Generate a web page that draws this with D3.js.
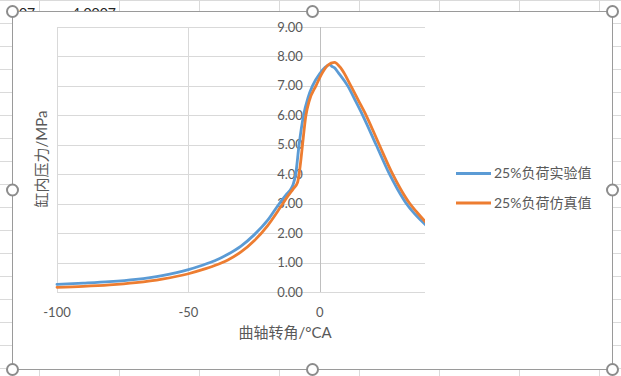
<!DOCTYPE html>
<html>
<head>
<meta charset="utf-8">
<script src="https://cdn.jsdelivr.net/npm/d3@7"></script>
<style>
  html, body { margin: 0; padding: 0; background: #fff; }
  svg { display: block; }
  text { font-family: "Lato", "Noto Sans CJK SC", sans-serif; }
</style>
</head>
<body>
<svg id="chart" width="621" height="376"></svg>
<script>
// crank angle (°CA) and cylinder pressure (MPa)
const expAngle = [-100, -90, -80, -70, -60, -50, -45, -40, -35, -30, -25, -20, -15.6, -12.5, -11, -10.2, -9.2, -7.9, -6.2, -4.5, -2.8, 0, 2, 3.9, 4.6, 5.5, 7, 10.6, 13.5, 16.3, 21.4, 26.5, 29.5, 32.8, 36, 41];
const expPress = [0.26, 0.30, 0.35, 0.43, 0.56, 0.76, 0.90, 1.06, 1.28, 1.56, 1.94, 2.42, 2.98, 3.34, 3.5, 3.64, 4.0, 5.0, 6.0, 6.6, 7.0, 7.42, 7.63, 7.72, 7.66, 7.62, 7.45, 7.0, 6.5, 6.0, 5.0, 4.0, 3.5, 3.02, 2.66, 2.22];

const simAngle = [-100, -90, -80, -70, -60, -50, -45, -40, -35, -30, -25, -20, -15, -12, -10, -8.5, -7.9, -7.2, -6.6, -5.3, -4, -1.5, 1, 3, 5.5, 8, 11.8, 14.7, 17.6, 22.6, 27.7, 30.7, 34, 37, 41];
const simPress = [0.16, 0.19, 0.24, 0.32, 0.44, 0.62, 0.75, 0.90, 1.09, 1.36, 1.74, 2.24, 2.88, 3.28, 3.52, 3.72, 4.0, 4.5, 5.0, 6.0, 6.5, 7.0, 7.45, 7.7, 7.8, 7.6, 7.0, 6.5, 6.0, 5.0, 4.0, 3.5, 3.03, 2.7, 2.3];

const seriesNames = ['25%负荷实验值', '25%负荷仿真值'];
const seriesColors = ['#5b9bd5', '#ed7d31'];
const xTicks = [-100, -50, 0];
const yTicks = [0, 1, 2, 3, 4, 5, 6, 7, 8, 9];

const W = 621, H = 376;
const svg = d3.select('#chart');

// worksheet grid behind the chart
const sheet = svg.append('g').attr('class', 'sheet');
sheet.selectAll('.col').data(d3.range(0, 8)).join('line')
    .attr('x1', d => 39.5 + d * 80).attr('x2', d => 39.5 + d * 80)
    .attr('y1', 0).attr('y2', H)
    .attr('stroke', '#dadada');
sheet.selectAll('.row').data(d3.range(0, 17)).join('line')
    .attr('x1', 0).attr('x2', W)
    .attr('y1', d => 0.5 + d * 23).attr('y2', d => 0.5 + d * 23)
    .attr('stroke', '#dadada');
sheet.append('text').attr('x', 19).attr('y', 18).attr('font-size', 14).attr('fill', '#222').text('07');
sheet.append('text').attr('x', 72).attr('y', 18).attr('font-size', 14).attr('fill', '#222').text('4.0007');

// chart area
svg.append('rect')
    .attr('x', 12.5).attr('y', 11.5).attr('width', 600).attr('height', 358)
    .attr('fill', '#fff').attr('stroke', '#9a9a9a');

const x = d3.scaleLinear().domain([-100, 40]).range([57, 425]);
const y = d3.scaleLinear().domain([0, 9]).range([292, 27]);

const plot = svg.append('g');

// gridlines
plot.selectAll('.hgrid').data(yTicks).join('line')
    .attr('x1', x(-100)).attr('x2', x(40))
    .attr('y1', d => Math.round(y(d)) + 0.5).attr('y2', d => Math.round(y(d)) + 0.5)
    .attr('stroke', '#d9d9d9');
plot.selectAll('.vgrid').data(xTicks.filter(d => d !== 0)).join('line')
    .attr('x1', d => Math.round(x(d)) + 0.5).attr('x2', d => Math.round(x(d)) + 0.5)
    .attr('y1', y(9)).attr('y2', y(0))
    .attr('stroke', '#d9d9d9');
// value axis crossing at 0
plot.append('line')
    .attr('x1', Math.round(x(0)) + 0.5).attr('x2', Math.round(x(0)) + 0.5)
    .attr('y1', y(9)).attr('y2', y(0))
    .attr('stroke', '#bfbfbf');

// tick labels
plot.selectAll('.ylab').data(yTicks).join('text')
    .attr('x', x(0) - 17).attr('y', d => y(d))
    .attr('dy', '0.35em').attr('text-anchor', 'end')
    .attr('font-size', 13).attr('fill', '#595959')
    .text(d => d3.format('.2f')(d));
plot.selectAll('.xlab').data(xTicks).join('text')
    .attr('x', d => x(d)).attr('y', 312)
    .attr('dy', '0.35em').attr('text-anchor', 'middle')
    .attr('font-size', 13).attr('fill', '#595959')
    .text(d => d);

// axis titles
svg.append('text')
    .attr('x', 285).attr('y', 333).attr('dy', '0.35em')
    .attr('text-anchor', 'middle').attr('font-size', 15).attr('fill', '#595959')
    .text('曲轴转角/°CA');
svg.append('text')
    .attr('transform', 'translate(42,159) rotate(-90)')
    .attr('dy', '0.35em')
    .attr('text-anchor', 'middle').attr('font-size', 15).attr('fill', '#595959')
    .text('缸内压力/MPa');

// series
svg.append('clipPath').attr('id', 'plot-clip')
    .append('rect').attr('x', x(-100) - 2).attr('y', 0).attr('width', x(40) - x(-100) + 2).attr('height', H);

const line = d3.line()
    .x(d => x(d[0])).y(d => y(d[1]))
    .curve(d3.curveMonotoneX);

const series = [
    d3.zip(expAngle, expPress),
    d3.zip(simAngle, simPress),
];

plot.append('g').attr('clip-path', 'url(#plot-clip)')
    .selectAll('path').data(series).join('path')
    .attr('d', line)
    .attr('fill', 'none')
    .attr('stroke', (d, i) => seriesColors[i])
    .attr('stroke-width', 2.8)
    .attr('stroke-linejoin', 'round')
    .attr('stroke-linecap', 'round');

// legend
const legend = svg.append('g').selectAll('g').data(seriesNames).join('g')
    .attr('transform', (d, i) => `translate(456,${173.5 + i * 29.5})`);
legend.append('line')
    .attr('x1', 0).attr('x2', 35)
    .attr('stroke', (d, i) => seriesColors[i]).attr('stroke-width', 3);
legend.append('text')
    .attr('x', 38).attr('dy', '0.35em')
    .attr('font-size', 14).attr('fill', '#595959')
    .text(d => d);

// selection handles
const hx = [12.5, 312.5, 612.5], hy = [11.5, 190, 369.5];
const handles = [];
hy.forEach((yy, j) => hx.forEach((xx, i) => { if (!(i === 1 && j === 1)) handles.push([xx, yy]); }));
svg.selectAll('.handle').data(handles).join('circle')
    .attr('cx', d => d[0]).attr('cy', d => d[1]).attr('r', 5.5)
    .attr('fill', '#fff').attr('stroke', '#8c8c8c').attr('stroke-width', 2);
</script>
</body>
</html>
